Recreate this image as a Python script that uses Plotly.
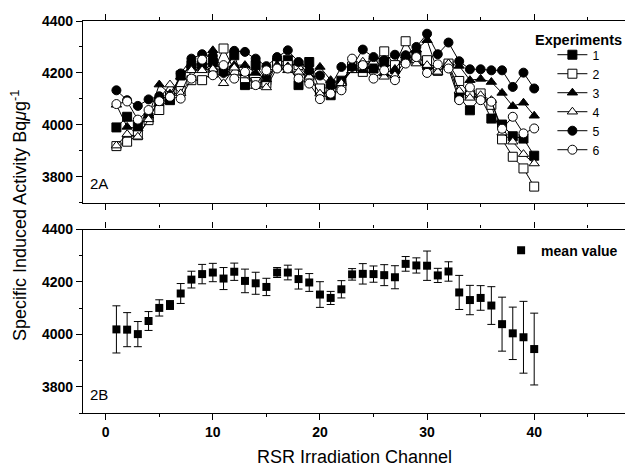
import plotly.graph_objects as go

channels = list(range(1, 41))

exp1 = [3990, 4031, 3999, 4028, 4089, 4095, 4190, 4230, 4230, 4240,
        4210, 4268, 4153, 4230, 4172, 4240, 4249, 4153, 4242, 4130,
        4114, 4170, 4220, 4217, 4217, 4242, 4215, 4251, 4268, 4230,
        4210, 4230, 4108, 4056, 4105, 4024, 4001, 3956, 3947, 3881]
exp2 = [3918, 3935, 3960, 4018, 4057, 4110, 4130, 4172, 4172, 4200,
        4294, 4210, 4180, 4165, 4160, 4230, 4230, 4230, 4180, 4140,
        4144, 4150, 4225, 4204, 4240, 4283, 4230, 4322, 4249, 4249,
        4208, 4236, 4169, 4117, 4121, 4077, 3944, 3877, 3832, 3762]
exp3 = [4077, 3992, 3986, 4035, 4155, 4120, 4185, 4230, 4240, 4287,
        4200, 4230, 4230, 4200, 4175, 4230, 4225, 4240, 4190, 4223,
        4172, 4165, 4210, 4210, 4230, 4198, 4215, 4268, 4290, 4326,
        4204, 4236, 4227, 4172, 4177, 4165, 4123, 4072, 4085, 4035]
exp4 = [3920, 3964, 3954, 4021, 4100, 4155, 4121, 4210, 4210, 4215,
        4160, 4220, 4190, 4149, 4144, 4220, 4210, 4204, 4185, 4120,
        4130, 4160, 4210, 4243, 4243, 4185, 4191, 4249, 4236, 4230,
        4204, 4236, 4131, 4104, 4114, 4095, 3970, 3935, 3887, 3851]
exp5 = [4133, 4095, 4073, 4098, 4110, 4100, 4198, 4255, 4272, 4265,
        4200, 4285, 4281, 4255, 4226, 4261, 4287, 4242, 4210, 4190,
        4150, 4223, 4223, 4290, 4261, 4249, 4270, 4268, 4300, 4351,
        4272, 4317, 4245, 4214, 4214, 4210, 4210, 4146, 4201, 4140]
exp6 = [4080, 4090, 4020, 4057, 4091, 4108, 4101, 4178, 4251, 4191,
        4230, 4178, 4204, 4153, 4210, 4217, 4217, 4178, 4159, 4099,
        4120, 4133, 4255, 4230, 4178, 4210, 4172, 4236, 4261, 4200,
        4233, 4217, 4095, 4144, 4095, 4089, 3985, 4031, 3967, 3986]

mean_value = [4019, 4018, 4001, 4051, 4101, 4112, 4156, 4209, 4230, 4236,
              4213, 4239, 4204, 4195, 4181, 4236, 4236, 4211, 4198, 4152,
              4139, 4172, 4229, 4231, 4230, 4226, 4218, 4269, 4263, 4262,
              4225, 4240, 4160, 4131, 4139, 4110, 4039, 4004, 3989, 3944]
mean_err = [90, 65, 48, 36, 31, 17, 38, 32, 37, 35,
            42, 33, 45, 42, 33, 19, 28, 38, 34, 49,
            25, 33, 22, 39, 31, 40, 44, 28, 29, 56,
            27, 37, 65, 56, 47, 72, 103, 100, 137, 137]

series_names = ["1", "2", "3", "4", "5", "6"]
series_values = [exp1, exp2, exp3, exp4, exp5, exp6]
series_symbols = ["square", "square", "triangle-up", "triangle-up", "circle", "circle"]
series_fill = ["black", "white", "black", "white", "black", "white"]

FONT = "Arial, Liberation Sans, sans-serif"

fig = go.Figure()
for name, vals, sym, fill in zip(series_names, series_values, series_symbols, series_fill):
    fig.add_trace(go.Scatter(
        x=channels, y=vals, mode="lines+markers", name=name,
        line=dict(color="black", width=1),
        marker=dict(symbol=sym, size=9, color=fill, line=dict(color="black", width=1)),
        xaxis="x", yaxis="y", legend="legend"))

fig.add_trace(go.Scatter(
    x=channels, y=mean_value, mode="markers", name="mean value",
    marker=dict(symbol="square", size=8, color="black"),
    error_y=dict(type="data", array=mean_err, color="black", thickness=1, width=4),
    xaxis="x2", yaxis="y2", legend="legend2"))

xcommon = dict(range=[-2.12, 48.57], showline=True, linecolor="black", linewidth=1.3,
               mirror="allticks", ticks="outside", ticklen=6, tickwidth=1.2, tickcolor="black",
               tick0=0, dtick=10, showgrid=False, zeroline=False,
               minor=dict(ticks="outside", ticklen=3, dtick=5, tick0=0, tickcolor="black", tickwidth=1),
               tickfont=dict(family=FONT, size=14, color="black", weight="bold"))
ycommon = dict(range=[3700, 4400], showline=True, linecolor="black", linewidth=1.3,
               mirror="allticks", ticks="outside", ticklen=6, tickwidth=1.2, tickcolor="black",
               tick0=3800, dtick=200, showgrid=False, zeroline=False,
               minor=dict(ticks="outside", ticklen=3, dtick=100, tick0=3700, tickcolor="black", tickwidth=1),
               tickfont=dict(family=FONT, size=14, color="black", weight="bold"))

fig.update_layout(
    width=625, height=459,
    margin=dict(l=75, r=0, t=13, b=54),
    paper_bgcolor="white", plot_bgcolor="white",
    font=dict(family=FONT, color="black"),
    xaxis=dict(domain=[0, 1], anchor="y", showticklabels=False, **xcommon),
    yaxis=dict(domain=[0.5365, 1], anchor="x", **ycommon),
    xaxis2=dict(domain=[0, 1], anchor="y2", showticklabels=True, **xcommon),
    yaxis2=dict(domain=[0, 0.468], anchor="x2", **ycommon),
    legend=dict(x=0.835, y=0.951, xanchor="left", yanchor="top",
                bgcolor="rgba(0,0,0,0)", borderwidth=0,
                font=dict(family=FONT, size=12.3), indentation=16,
                itemwidth=30, tracegroupgap=0),
    legend2=dict(x=0.77, y=0.455, xanchor="left", yanchor="top",
                 bgcolor="rgba(0,0,0,0)", borderwidth=0,
                 font=dict(family=FONT, size=14, weight="bold"), itemwidth=30),
    showlegend=True,
)

fig.add_annotation(text="<b>Experiments</b>", xref="paper", yref="paper",
                   x=0.829, y=0.9515, showarrow=False,
                   font=dict(family=FONT, size=14.5), xanchor="left", yanchor="middle")
fig.add_annotation(text="Specific Induced Activity Bq<i>μ</i>g<sup>-1</sup>",
                   xref="paper", yref="paper", x=-0.118, y=0.505, textangle=-90,
                   showarrow=False, font=dict(family=FONT, size=18),
                   xanchor="center", yanchor="middle")
fig.add_annotation(text="RSR Irradiation Channel", xref="paper", yref="paper",
                   x=0.5, y=-0.112, showarrow=False, font=dict(family=FONT, size=18),
                   xanchor="center", yanchor="middle")
fig.add_annotation(text="2A", xref="paper", yref="paper", x=0.009, y=0.586,
                   showarrow=False, font=dict(family=FONT, size=15),
                   xanchor="left", yanchor="middle")
fig.add_annotation(text="2B", xref="paper", yref="paper", x=0.009, y=0.048,
                   showarrow=False, font=dict(family=FONT, size=15),
                   xanchor="left", yanchor="middle")

fig.write_html("out.html")
